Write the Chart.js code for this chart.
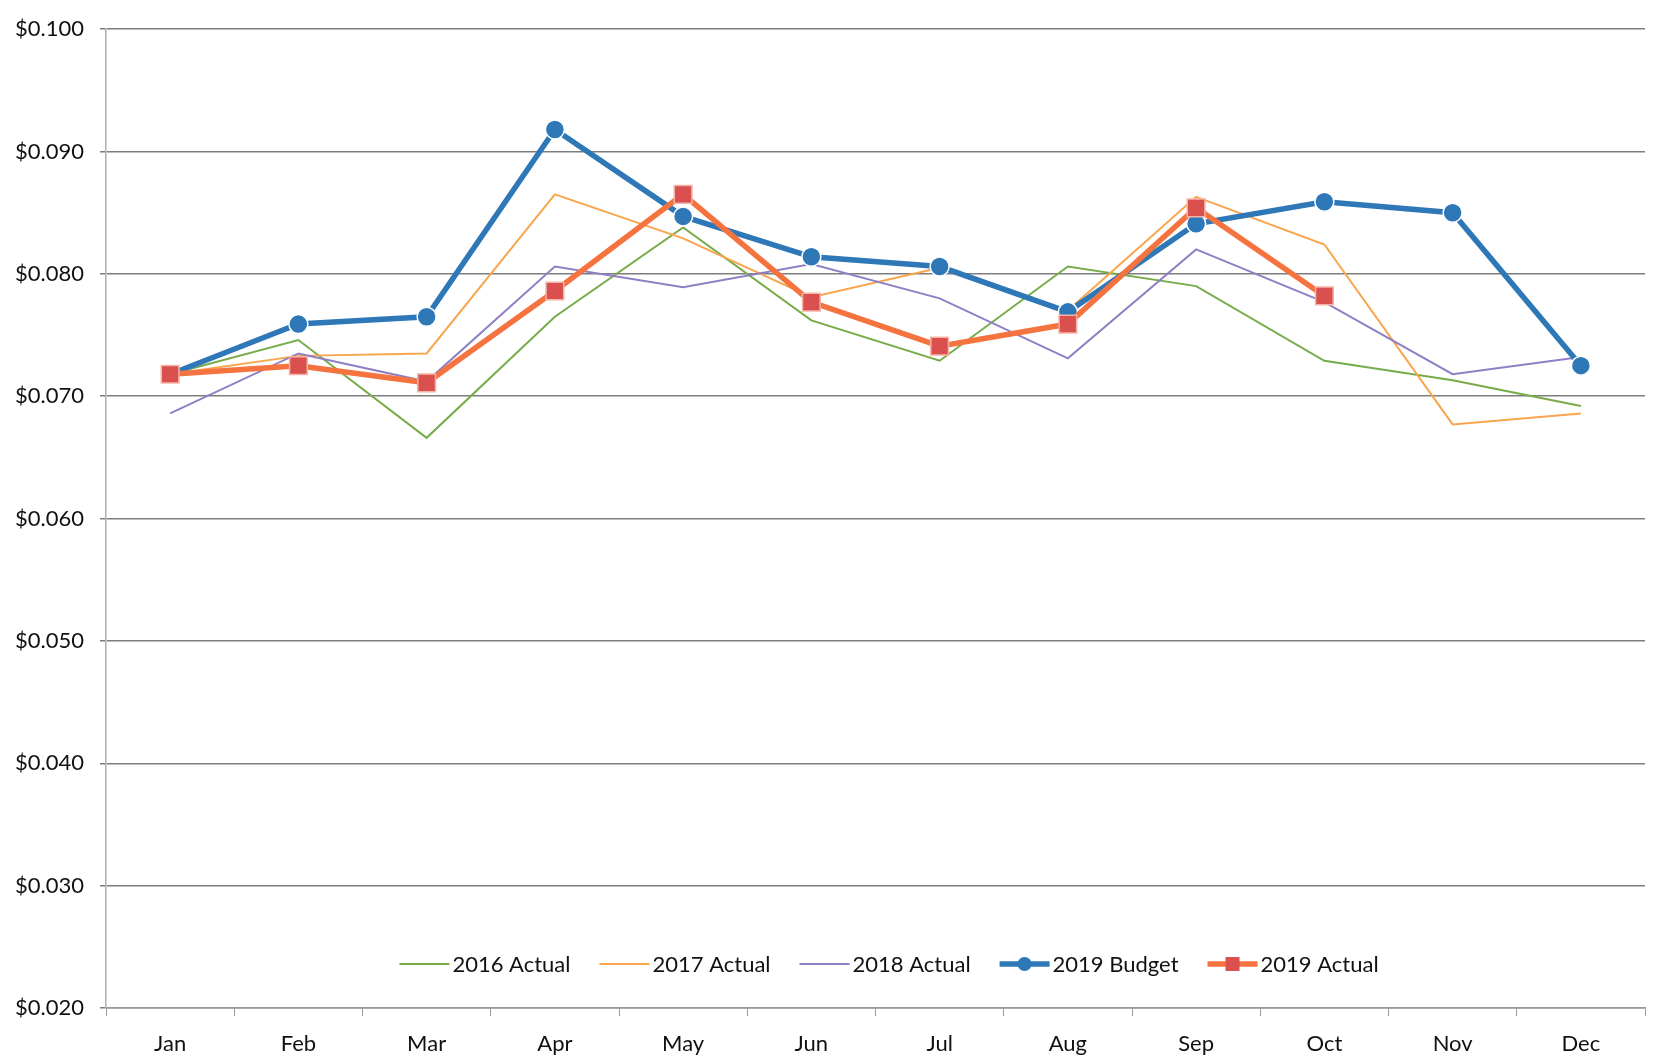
<!DOCTYPE html>
<html>
<head>
<meta charset="utf-8">
<script src="https://cdn.jsdelivr.net/npm/chart.js@4.4.1/dist/chart.umd.min.js"></script>
<style>
  html, body { margin: 0; padding: 0; background: #fff; }
  #wrap { width: 1659px; height: 1062px; }
</style>
</head>
<body>
<div id="wrap"><canvas id="cost-chart" width="1659" height="1062"></canvas></div>
<script>
// months on the x axis
const months = ['Jan', 'Feb', 'Mar', 'Apr', 'May', 'Jun', 'Jul', 'Aug', 'Sep', 'Oct', 'Nov', 'Dec'];

// values ($ per unit)
const actual2016 = [0.0718, 0.0746, 0.0666, 0.0765, 0.0838, 0.0762, 0.0729, 0.0806, 0.0790, 0.0729, 0.0713, 0.0692];
const actual2017 = [0.0718, 0.0733, 0.0735, 0.0865, 0.0829, 0.0781, 0.0805, 0.0770, 0.0863, 0.0824, 0.0677, 0.0686];
const actual2018 = [0.0686, 0.0735, 0.0712, 0.0806, 0.0789, 0.0808, 0.0780, 0.0731, 0.0820, 0.0777, 0.0718, 0.0732];
const budget2019 = [0.0718, 0.0759, 0.0765, 0.0918, 0.0847, 0.0814, 0.0806, 0.0769, 0.0841, 0.0859, 0.0850, 0.0725];
const actual2019 = [0.0718, 0.0725, 0.0711, 0.0786, 0.0865, 0.0777, 0.0741, 0.0759, 0.0854, 0.0782, null, null];

// y axis range / ticks
const yMin = 0.02;
const yMax = 0.10;
const yStep = 0.01;

const FONT = 'Lato, "Open Sans", sans-serif';

// legend drawn inside the plot, just above the x axis
const insideLegend = {
    id: 'insideLegend',
    afterDraw(chart) {
        const ctx = chart.ctx;
        const area = chart.chartArea;
        const y = area.bottom - 44;
        const sample = 50;
        const gap = 28;
        ctx.save();
        ctx.font = '22px ' + FONT;
        ctx.textBaseline = 'middle';
        // measure total width so it can be centred
        const items = chart.data.datasets.map(ds => ({ ds, w: sample + 4 + ctx.measureText(ds.label).width }));
        const total = items.reduce((s, it) => s + it.w, 0) + gap * (items.length - 1);
        let x = (area.left + area.right) / 2 - total / 2 + 14;
        items.forEach(({ ds, w }) => {
            ctx.strokeStyle = ds.borderColor;
            ctx.lineWidth = ds.borderWidth;
            ctx.beginPath();
            ctx.moveTo(x, y);
            ctx.lineTo(x + sample, y);
            ctx.stroke();
            if (ds.pointRadius > 0) {
                const cx = x + sample / 2;
                ctx.fillStyle = ds.pointBackgroundColor;
                if (ds.pointStyle === 'rect') {
                    ctx.fillRect(cx - 7, y - 7, 14, 14);
                } else {
                    ctx.beginPath();
                    ctx.arc(cx, y, 7, 0, Math.PI * 2);
                    ctx.fill();
                }
            }
            ctx.fillStyle = '#111';
            ctx.fillText(ds.label, x + sample + 3, y + 1);
            x += w + gap;
        });
        ctx.restore();
    }
};

const ctx = document.getElementById('cost-chart').getContext('2d');
new Chart(ctx, {
    type: 'line',
    data: {
        labels: months,
        datasets: [
            { label: '2016 Actual', data: actual2016, borderColor: '#77ac4a', borderWidth: 2, pointRadius: 0, order: 4 },
            { label: '2017 Actual', data: actual2017, borderColor: '#f8a54c', borderWidth: 2, pointRadius: 0, order: 3 },
            { label: '2018 Actual', data: actual2018, borderColor: '#8f7fc4', borderWidth: 2, pointRadius: 0, order: 2 },
            {
                label: '2019 Budget', data: budget2019, borderColor: '#2f78b8', borderWidth: 5.5,
                pointRadius: 9.5, pointStyle: 'circle', pointBackgroundColor: '#2f78b8',
                pointBorderColor: '#ffffff', pointBorderWidth: 1.5, order: 1
            },
            {
                label: '2019 Actual', data: actual2019, borderColor: '#f4733f', borderWidth: 5.5,
                pointRadius: 12.5, pointStyle: 'rect', pointBackgroundColor: '#d9504f',
                pointBorderColor: '#f6b4a6', pointBorderWidth: 1.5, order: 0
            }
        ]
    },
    options: {
        responsive: false,
        animation: false,
        spanGaps: false,
        layout: { padding: { top: 2, right: 4, left: 0, bottom: 0 } },
        plugins: {
            legend: { display: false },
            tooltip: { enabled: false }
        },
        elements: { line: { tension: 0 } },
        scales: {
            x: {
                offset: true,
                grid: { display: true, drawOnChartArea: false, offset: true, tickLength: 8, color: '#9a9a9a' },
                border: { display: true, color: '#9a9a9a', width: 1.5 },
                ticks: { color: '#111', font: { family: FONT, size: 22 }, padding: 15 },
                afterFit(scale) { scale.height = 54; }
            },
            y: {
                min: yMin,
                max: yMax,
                grid: { color: '#7d7d7d', lineWidth: 1.5, tickLength: 6 },
                border: { display: true, color: '#b0b0b0', width: 1.5 },
                ticks: {
                    stepSize: yStep,
                    color: '#111',
                    font: { family: FONT, size: 22 },
                    padding: 16,
                    callback: v => '$' + Number(v).toFixed(3)
                },
                afterFit(scale) { scale.width = 106; }
            }
        }
    },
    plugins: [insideLegend]
});
</script>
</body>
</html>
